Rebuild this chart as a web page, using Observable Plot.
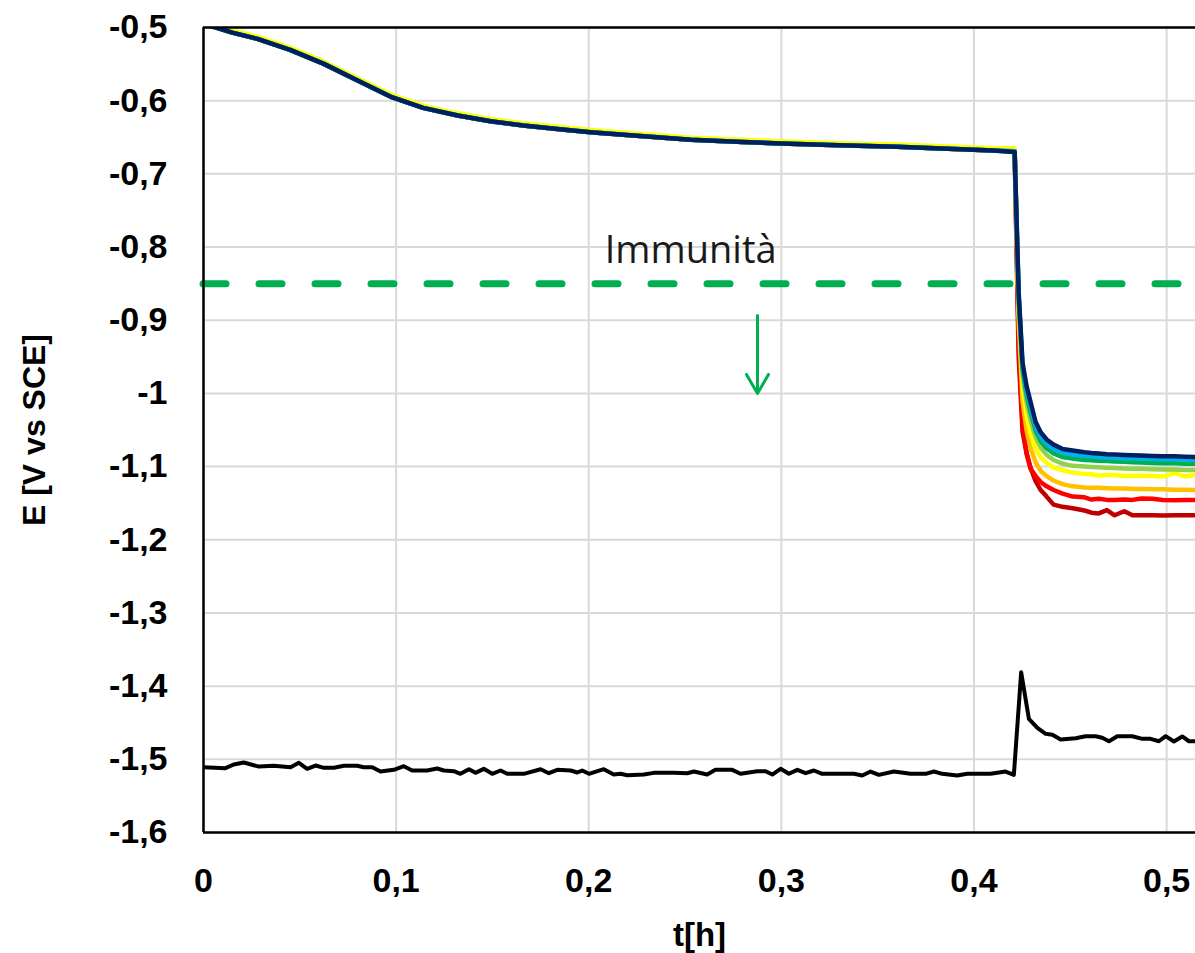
<!DOCTYPE html>
<html><head><meta charset="utf-8">
<script src="https://cdn.jsdelivr.net/npm/d3@7"></script>
<script src="https://cdn.jsdelivr.net/npm/@observablehq/plot@0.6"></script>
<style>html,body{margin:0;padding:0;background:#fff} #chart svg{display:block}</style>
</head><body><div id="chart"></div>
<script>
// ---- tick labels / texts ----
const xTicks = [0, 0.1, 0.2, 0.3, 0.4, 0.5];
const yTicks = [-1.6, -1.5, -1.4, -1.3, -1.2, -1.1, -1.0, -0.9, -0.8, -0.7, -0.6, -0.5];
const xDomain = [0, 0.515];
const yDomain = [-1.6, -0.5];
const xTitle = "t[h]";
const yTitle = "E [V vs SCE]";
const immunityLabel = "Immunità";
const immunityLevel = -0.85;

// ---- colored series: shared first part ----
const tPre  = [0, 0.007, 0.015, 0.028, 0.045, 0.0625, 0.08, 0.097, 0.114, 0.132, 0.149, 0.166, 0.185, 0.201, 0.225, 0.253, 0.28, 0.30, 0.33, 0.36, 0.39, 0.41];
const ePreA = [-0.495, -0.5004, -0.507, -0.5155, -0.5305, -0.5497, -0.5724, -0.5943, -0.6098, -0.6203, -0.628, -0.6339, -0.639, -0.643, -0.648, -0.6535, -0.6565, -0.6585, -0.661, -0.663, -0.666, -0.668];
const ePreB = [-0.492, -0.4975, -0.504, -0.5125, -0.5275, -0.5467, -0.5694, -0.5913, -0.6068, -0.6173, -0.625, -0.6309, -0.636, -0.640, -0.645, -0.6505, -0.6535, -0.6555, -0.658, -0.660, -0.663, -0.665];

// ---- colored series: after the step ----
const tPost = [0.4211, 0.4232, 0.4252, 0.4273, 0.4294, 0.4320, 0.4346, 0.4377, 0.4413, 0.4460, 0.4512, 0.4574, 0.4610, 0.4647, 0.4690, 0.4730, 0.4780, 0.4823, 0.4870, 0.4927, 0.4980, 0.5042, 0.5095, 0.5150];
const eDarkRed    = [-0.668, -0.950, -1.052, -1.082, -1.102, -1.120, -1.132, -1.141, -1.152, -1.155, -1.157, -1.160, -1.163, -1.164, -1.1595, -1.1665, -1.161, -1.1665, -1.1665, -1.1665, -1.167, -1.1665, -1.1665, -1.1665];
const eRed        = [-0.668, -0.930, -1.040, -1.082, -1.103, -1.113, -1.121, -1.127, -1.132, -1.137, -1.141, -1.142, -1.145, -1.144, -1.1455, -1.1455, -1.145, -1.1455, -1.1435, -1.144, -1.1455, -1.146, -1.1455, -1.1455];
const eOrange     = [-0.667, -0.900, -1.010, -1.050, -1.075, -1.094, -1.106, -1.113, -1.119, -1.124, -1.127, -1.1285, -1.129, -1.129, -1.1295, -1.130, -1.130, -1.1305, -1.1305, -1.131, -1.131, -1.1315, -1.1315, -1.132];
const eYellow     = [-0.665, -0.885, -0.990, -1.030, -1.055, -1.075, -1.087, -1.095, -1.101, -1.105, -1.108, -1.110, -1.1105, -1.1125, -1.111, -1.1115, -1.113, -1.1125, -1.1125, -1.113, -1.1135, -1.109, -1.1135, -1.1115];
const eLightGreen = [-0.669, -0.875, -0.975, -1.012, -1.037, -1.060, -1.074, -1.084, -1.091, -1.096, -1.099, -1.100, -1.1005, -1.101, -1.1015, -1.102, -1.1025, -1.103, -1.103, -1.1035, -1.104, -1.104, -1.1045, -1.1045];
const eGreen      = [-0.670, -0.870, -0.967, -1.002, -1.026, -1.051, -1.065, -1.075, -1.082, -1.087, -1.089, -1.091, -1.0915, -1.092, -1.0925, -1.093, -1.0935, -1.094, -1.0945, -1.095, -1.0955, -1.0955, -1.096, -1.096];
const eLightBlue  = [-0.669, -0.866, -0.962, -0.996, -1.019, -1.045, -1.059, -1.069, -1.076, -1.081, -1.0835, -1.0855, -1.086, -1.087, -1.0875, -1.088, -1.0885, -1.089, -1.089, -1.0895, -1.090, -1.090, -1.0905, -1.0905];
const eDarkBlue   = [-0.670, -0.862, -0.958, -0.990, -1.012, -1.039, -1.053, -1.063, -1.070, -1.076, -1.078, -1.0805, -1.0815, -1.082, -1.083, -1.0835, -1.084, -1.0845, -1.085, -1.0855, -1.086, -1.086, -1.0865, -1.087];

const seriesColors = ["#C00000", "#FF0000", "#FFC000", "#FFFF00", "#92D050", "#00B050", "#00B0F0", "#002060"];
const seriesPost   = [eDarkRed, eRed, eOrange, eYellow, eLightGreen, eGreen, eLightBlue, eDarkBlue];
const seriesPre    = [ePreA, ePreA, ePreA, ePreB, ePreA, ePreA, ePreA, ePreA];

// ---- black series ----
const tBlack = [0, 0.0114, 0.0157, 0.0209, 0.0287, 0.0365, 0.0452, 0.0495, 0.0538, 0.0582, 0.0625, 0.0677, 0.0729, 0.0798, 0.0832, 0.0876, 0.0919, 0.0988, 0.1040, 0.1083, 0.1161, 0.1213, 0.1248, 0.1300, 0.1334, 0.1378, 0.1412, 0.1455, 0.1499, 0.1542, 0.1577, 0.1663, 0.1750, 0.1793, 0.1837, 0.1906, 0.1940, 0.1966, 0.2001, 0.2078, 0.2130, 0.2165, 0.2200, 0.2286, 0.2338, 0.2442, 0.2511, 0.2546, 0.2615, 0.2658, 0.2745, 0.2788, 0.2875, 0.2918, 0.2953, 0.2996, 0.3039, 0.3083, 0.3126, 0.3169, 0.3212, 0.3377, 0.3420, 0.3463, 0.3506, 0.3584, 0.3671, 0.3749, 0.3792, 0.3835, 0.3913, 0.3965, 0.4086, 0.4164, 0.4207, 0.4245, 0.4285, 0.4329, 0.4372, 0.4407, 0.4450, 0.4528, 0.4579, 0.4631, 0.4666, 0.4701, 0.4744, 0.4822, 0.4874, 0.4917, 0.4960, 0.4995, 0.5038, 0.5081, 0.5116, 0.5150];
const eBlack = [-1.5108, -1.5121, -1.5071, -1.5044, -1.5099, -1.5089, -1.5108, -1.5048, -1.5130, -1.5085, -1.5116, -1.5116, -1.5089, -1.5089, -1.5108, -1.5108, -1.5167, -1.5144, -1.5094, -1.5153, -1.5153, -1.5126, -1.5153, -1.5162, -1.5198, -1.5135, -1.5185, -1.5130, -1.5198, -1.5153, -1.5198, -1.5198, -1.5135, -1.5190, -1.5144, -1.5153, -1.5180, -1.5153, -1.5198, -1.5135, -1.5208, -1.5198, -1.5217, -1.5208, -1.5185, -1.5185, -1.5190, -1.5167, -1.5208, -1.5144, -1.5144, -1.5198, -1.5162, -1.5162, -1.5208, -1.5130, -1.5198, -1.5144, -1.5190, -1.5153, -1.5198, -1.5198, -1.5221, -1.5167, -1.5212, -1.5167, -1.5198, -1.5198, -1.5167, -1.5198, -1.5221, -1.5198, -1.5198, -1.5167, -1.5212, -1.3810, -1.4447, -1.4570, -1.4652, -1.4665, -1.4729, -1.4711, -1.4684, -1.4684, -1.4706, -1.4753, -1.4684, -1.4684, -1.4720, -1.4720, -1.4753, -1.4684, -1.4757, -1.4688, -1.4753, -1.4753];

// ---- annotation anchors (data units) ----
const labelAt = {t: 0.2529, E: -0.8045};
const arrowAt = {t: 0.2876, E1: -0.8935, E2: -1.0001};

// ---- build tables ----
const rowsFor = (pre, post) => tPre.map((t, i) => ({t, E: pre[i]})).concat(tPost.map((t, i) => ({t, E: post[i]})));
const blackRows = tBlack.map((t, i) => ({t, E: eBlack[i]}));
const fmt = d => String(+(+d).toFixed(1)).replace(".", ",");

const seriesMarks = seriesColors.map((c, k) =>
  Plot.line(rowsFor(seriesPre[k], seriesPost[k]), {x: "t", y: "E", stroke: c, strokeWidth: 4.5, clip: true, strokeLinejoin: "round"})
);

const chart = Plot.plot({
  width: 1195,
  height: 953,
  marginLeft: 203,
  marginRight: 0,
  marginTop: 27,
  marginBottom: 121,
  style: {background: "white", color: "black", fontFamily: "'Liberation Sans', Arial, sans-serif", overflow: "visible"},
  x: {domain: xDomain},
  y: {domain: yDomain},
  marks: [
    Plot.gridX(xTicks, {stroke: "#d9d9d9", strokeOpacity: 1, strokeWidth: 2}),
    Plot.gridY(yTicks, {stroke: "#d9d9d9", strokeOpacity: 1, strokeWidth: 2}),
    Plot.ruleY([immunityLevel], {stroke: "#00B050", strokeWidth: 7, strokeDasharray: "23,33", strokeLinecap: "round"}),
    Plot.text([immunityLabel], {x: () => labelAt.t, y: () => labelAt.E, text: d => d, fontFamily: "'Open Sans', sans-serif", fontSize: 38, fill: "#1a1a1a"}),
    Plot.arrow([arrowAt], {x1: "t", x2: "t", y1: "E1", y2: "E2", stroke: "#00B050", strokeWidth: 3, headLength: 11, headAngle: 60}),
    ...seriesMarks,
    Plot.line(blackRows, {x: "t", y: "E", stroke: "black", strokeWidth: 4, clip: true, strokeLinejoin: "round"}),
    Plot.ruleX([xDomain[0]], {stroke: "black", strokeWidth: 2.5}),
    Plot.ruleY(yDomain, {stroke: "black", strokeWidth: 2.5}),
    Plot.axisX({ticks: xTicks, tickSize: 0, tickPadding: 35, tickFormat: fmt, fontSize: 34, fontWeight: "bold", label: null}),
    Plot.axisY({ticks: yTicks, tickSize: 0, tickPadding: 36, tickFormat: fmt, fontSize: 34, fontWeight: "bold", label: null}),
    Plot.text([yTitle], {text: d => d, frameAnchor: "left", dx: -169, rotate: -90, textAnchor: "middle", lineAnchor: "middle", fontSize: 32, fontWeight: "bold"}),
    Plot.text([xTitle], {text: d => d, frameAnchor: "bottom", dy: 103, textAnchor: "middle", lineAnchor: "middle", fontSize: 33, fontWeight: "bold"})
  ]
});
document.getElementById("chart").appendChild(chart);
</script></body></html>
